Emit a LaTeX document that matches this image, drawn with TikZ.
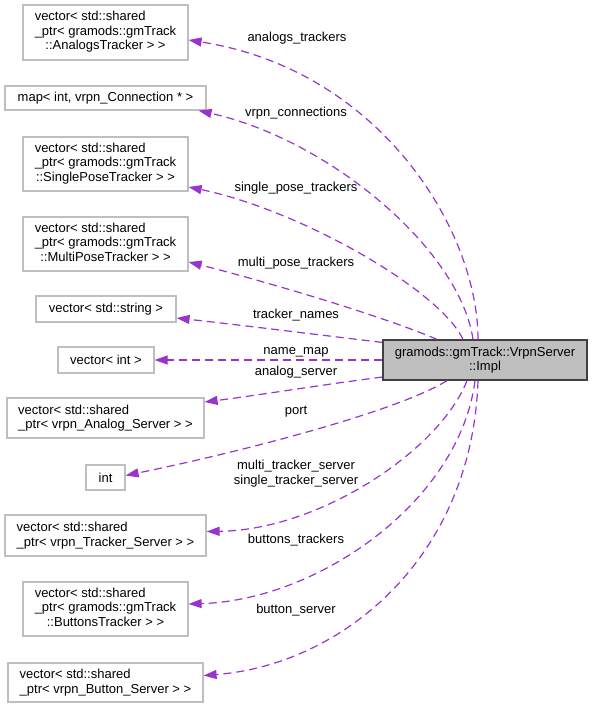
\documentclass[tikz,border=0pt]{standalone}
\usepackage{fontspec}
\setmainfont{Liberation Sans}
\usetikzlibrary{arrows.meta}
\definecolor{memberedge}{HTML}{9A32CD}
\definecolor{boxline}{HTML}{BFBFBF}
\definecolor{implfill}{HTML}{BFBFBF}
\definecolor{implline}{HTML}{404040}
\tikzstyle{typebox}=[draw=boxline, line width=1.2pt, inner sep=0pt, align=left, font=\fontsize{13}{14.5}\selectfont]
\tikzstyle{implbox}=[draw=implline, fill=implfill, line width=1.2pt, inner sep=0pt, align=center, font=\fontsize{13}{14.5}\selectfont]
\tikzstyle{edge} = [draw=memberedge, line width=1.2pt, dash pattern=on 8pt off 5pt, -{Triangle[length=13pt,width=9pt]}]
\tikzstyle{member} = [inner sep=0pt, align=center, font=\fontsize{13}{14.5}\selectfont]
\newcommand{\threelines}[3]{\begin{tabular}{@{}l@{}}#1\\#2\\\multicolumn{1}{@{}c@{}}{#3}\end{tabular}}

\begin{document}
\begin{tikzpicture}[x=1pt, y=-1pt]

    \useasboundingbox (0,0) rectangle (592,709);

    \node[implbox, minimum width=204pt, minimum height=40pt] (impl) at (485, 360) {gramods::gmTrack::VrpnServer\\::Impl};

    \node[typebox, minimum width=165pt, minimum height=55pt] (analogs) at (105.5, 32.5) {\threelines{vector< std::shared}{\_ptr< gramods::gmTrack}{::AnalogsTracker > >}};
    \node[typebox, minimum width=201pt, minimum height=24pt] (connections) at (105.5, 98) {map< int, vrpn\_Connection * >};
    \node[typebox, minimum width=165pt, minimum height=54pt] (single) at (105.5, 164) {\threelines{vector< std::shared}{\_ptr< gramods::gmTrack}{::SinglePoseTracker > >}};
    \node[typebox, minimum width=165pt, minimum height=54pt] (multi) at (105.5, 244) {\threelines{vector< std::shared}{\_ptr< gramods::gmTrack}{::MultiPoseTracker > >}};
    \node[typebox, minimum width=140pt, minimum height=26pt] (names) at (106, 309) {vector< std::string >};
    \node[typebox, minimum width=96pt, minimum height=26pt] (namemap) at (106, 360) {vector< int >};
    \node[typebox, minimum width=197pt, minimum height=40pt] (analogsrv) at (105.5, 418) {vector< std::shared\\\_ptr< vrpn\_Analog\_Server > >};
    \node[typebox, minimum width=39pt, minimum height=25pt] (port) at (105.5, 477.5) {int};
    \node[typebox, minimum width=201pt, minimum height=41pt] (trackersrv) at (105.5, 535.5) {vector< std::shared\\\_ptr< vrpn\_Tracker\_Server > >};
    \node[typebox, minimum width=165pt, minimum height=54pt] (buttons) at (105.5, 609) {\threelines{vector< std::shared}{\_ptr< gramods::gmTrack}{::ButtonsTracker > >}};
    \node[typebox, minimum width=195pt, minimum height=39pt] (buttonsrv) at (105.5, 682.5) {vector< std::shared\\\_ptr< vrpn\_Button\_Server > >};

    % members of Impl
    \path[edge] ([xshift=-7pt]impl.north) .. controls (478, 230) and (380, 70) .. ([yshift=-7.5pt]analogs.east);
    \path[edge] ([xshift=-12pt]impl.north) .. controls (460, 250) and (330, 140) .. ([xshift=-8pt]connections.south east);
    \path[edge] ([xshift=-22pt]impl.north) .. controls (440, 290) and (300, 210) .. ([yshift=-23pt]single.east);
    \path[edge] ([xshift=-48pt]impl.north) .. controls (380, 315) and (260, 280) .. ([yshift=-18pt]multi.east);
    \path[edge] ([yshift=-3pt]impl.north west) .. controls (320, 335) and (240, 325) .. ([yshift=-9pt]names.east);
    \path[edge] (impl.west) -- (namemap.east);
    \path[edge] ([yshift=-17pt]impl.west) .. controls (320, 385) and (260, 395) .. ([yshift=16pt]analogsrv.east);
    \path[edge] ([xshift=-38pt]impl.south) .. controls (400, 410) and (250, 450) .. ([yshift=2pt]port.east);
    \path[edge] ([xshift=-18pt]impl.south) .. controls (440, 450) and (320, 530) .. ([yshift=4pt]trackersrv.east);
    \path[edge] ([xshift=-10pt]impl.south) .. controls (460, 500) and (320, 600) .. ([yshift=5pt]buttons.east);
    \path[edge] ([xshift=-7pt]impl.south) .. controls (472, 560) and (340, 665) .. ([yshift=7pt]buttonsrv.east);

    \node[member] (m-analogs) at (297, 38) {analogs\_trackers};
    \node[member] (m-connections) at (296, 113) {vrpn\_connections};
    \node[member] (m-single) at (296, 188) {single\_pose\_trackers};
    \node[member] (m-multi) at (296, 263) {multi\_pose\_trackers};
    \node[member] (m-names) at (296, 315) {tracker\_names};
    \node[member] (m-namemap) at (296, 352) {name\_map};
    \node[member] (m-analogsrv) at (296, 372) {analog\_server};
    \node[member] (m-port) at (296, 412) {port};
    \node[member] (m-trackersrv) at (296, 473.5) {multi\_tracker\_server\\single\_tracker\_server};
    \node[member] (m-buttons) at (296, 540) {buttons\_trackers};
    \node[member] (m-buttonsrv) at (296, 610) {button\_server};

\end{tikzpicture}
\end{document}
